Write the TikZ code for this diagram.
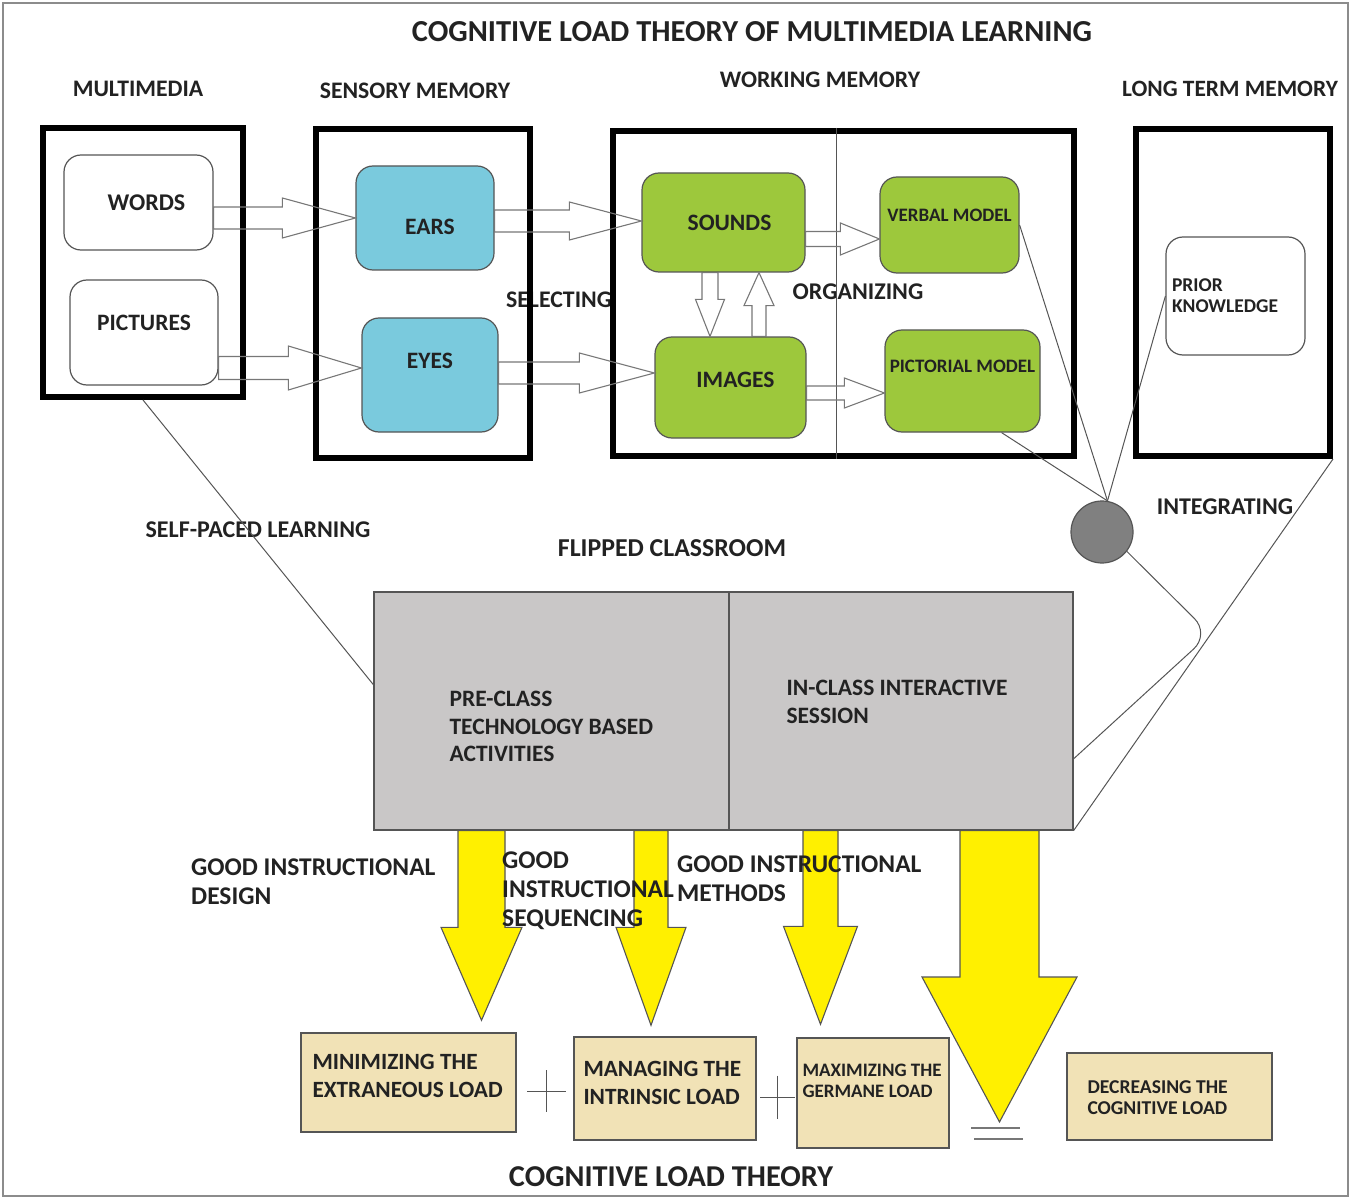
\documentclass[tikz,border=0pt]{standalone}
\usepackage{fontspec}
\setmainfont{Carlito}
\usetikzlibrary{calc,positioning}
\definecolor{ink}{HTML}{222222}
\definecolor{edge}{HTML}{555555}
\definecolor{sky}{HTML}{7ACADD}
\definecolor{leaf}{HTML}{9DC83C}
\definecolor{slab}{HTML}{C9C7C7}
\definecolor{hubgray}{HTML}{808080}
\definecolor{sun}{HTML}{FFF000}
\definecolor{sand}{HTML}{F1E2B6}
\definecolor{rim}{HTML}{8C8C8C}

\begin{document}
\begin{tikzpicture}[x=1pt,y=-1pt,
  txt/.style 2 args={font=\fontsize{#1}{#2}\selectfont\bfseries,text=ink,inner sep=0pt},
  store/.style={draw=black,line width=6pt,inner sep=0pt},
  card/.style={draw=edge,line width=1.2pt,rounded corners=17pt,inner sep=0pt},
  panel/.style={draw=edge,line width=1.2pt,fill=slab,inner sep=0pt},
  loadbox/.style={draw=edge,line width=1.4pt,fill=sand,inner sep=0pt},
  wire/.style={draw=edge,line width=1pt},
  % block arrow: shaft half width, head half width, head length
  hollow/.style n args={3}{draw=edge!80,line width=1.1pt,
    to path={
      ($(\tikztotarget)!#3!(\tikztostart)$) coordinate (hb)
      ($(\tikztostart)!#1!90:(\tikztotarget)$)
      -- ($(hb)!#1!90:(\tikztotarget)$)
      -- ($(hb)!#2!90:(\tikztotarget)$)
      -- (\tikztotarget)
      -- ($(hb)!#2!-90:(\tikztotarget)$)
      -- ($(hb)!#1!-90:(\tikztotarget)$)
      -- ($(\tikztostart)!#1!-90:(\tikztotarget)$)
      -- cycle}}]

  \useasboundingbox (0,0) rectangle (1352,1198);
  \draw[rim,line width=2pt] (3,3) rectangle (1348,1196);

  % headings
  \node[txt={30.5}{36}] (title) at (752,32)
    {COGNITIVE LOAD THEORY OF MULTIMEDIA LEARNING};
  \node[txt={23.7}{28}] (hmm) at (138,89) {MULTIMEDIA};
  \node[txt={23.7}{28}] (hsm) at (415,91) {SENSORY MEMORY};
  \node[txt={23.7}{28}] (hwm) at (820,80) {WORKING MEMORY};
  \node[txt={23.4}{28}] (hltm) at (1230,89) {LONG TERM MEMORY};
  \node[txt={23.8}{28}] (selecting) at (559,300) {SELECTING};
  \node[txt={24}{28}] (organizing) at (858,292) {ORGANIZING};

  % the four stores
  \node[store,minimum width=200pt,minimum height=269pt] (mm) at (143,262.5) {};
  \node[store,minimum width=214pt,minimum height=329pt] (sm) at (423,293.5) {};
  \node[store,minimum width=461pt,minimum height=325pt] (wm) at (843.5,293.5) {};
  \node[store,minimum width=194pt,minimum height=327pt] (ltm) at (1233,292.5) {};
  \draw[wire] (wm.north -| 836,0) -- (wm.south -| 836,0);

  \node[card,txt={24}{28},fill=white,minimum width=149pt,minimum height=95pt]
    (words) at (138.5,202.5) {\hspace*{16pt}WORDS};
  \node[card,txt={23.5}{28},fill=white,minimum width=148pt,minimum height=105pt,
    text depth=19pt] (pictures) at (144,332.5) {PICTURES};
  \node[card,txt={23.5}{28},fill=sky,minimum width=138pt,minimum height=104pt,
    text height=33pt] (ears) at (425,218) {\hspace*{10pt}EARS};
  \node[card,txt={23.5}{28},fill=sky,minimum width=136pt,minimum height=114pt,
    text depth=28pt] (eyes) at (430,375) {EYES};
  \node[card,txt={23.5}{28},fill=leaf,minimum width=163pt,minimum height=99pt]
    (sounds) at (723.5,222.5) {\hspace*{12pt}SOUNDS};
  \node[card,txt={23.5}{28},fill=leaf,minimum width=151pt,minimum height=101pt,
    text depth=15pt] (images) at (730.5,387.5) {\hspace*{10pt}IMAGES};
  \node[card,txt={19}{22},fill=leaf,minimum width=139pt,minimum height=96pt,
    text depth=20pt] (verbal) at (949.5,225) {VERBAL MODEL};
  \node[card,txt={19}{22},fill=leaf,minimum width=155pt,minimum height=102pt,
    text depth=30pt] (pictorial) at (962.5,381) {PICTORIAL MODEL};
  \node[card,txt={19.5}{21},fill=white,minimum width=139pt,minimum height=118pt,
    text width=127pt,align=left] (prior) at (1235.5,296) {PRIOR\\KNOWLEDGE};

  % selecting and organizing
  \draw[hollow={11pt}{20pt}{73pt}] (words.east |- ears.west) to (ears.west);
  \draw[hollow={11.5pt}{22pt}{73pt}] (pictures.east |- 0,368) to (eyes.west |- 0,368);
  \draw[hollow={11pt}{19pt}{72pt}] (ears.east |- 0,221) to (sounds.west |- 0,221);
  \draw[hollow={11pt}{20pt}{75pt}] (eyes.east |- 0,373) to (images.west |- 0,373);
  \draw[hollow={7.5pt}{16pt}{39pt}] (sounds.east |- 0,239) to (verbal.west |- 0,239);
  \draw[hollow={7pt}{15pt}{40pt}] (images.east |- 0,393) to (pictorial.west |- 0,393);
  \draw[hollow={8pt}{14.5pt}{37pt}] (sounds.south -| 710,0) to (images.north -| 710,0);
  \draw[hollow={7pt}{15pt}{33pt}] (images.north -| 759,0) to (sounds.south -| 759,0);

  % integrating
  \node[circle,draw=edge,fill=hubgray,line width=1.2pt,minimum size=62pt,inner sep=0pt]
    (hub) at (1102,532) {};
  \node[txt={24}{28}] (integrating) at (1225,507) {INTEGRATING};
  \draw[wire] (verbal.east) -- (hub.80);
  \draw[wire] ($(pictorial.south)!0.5!(pictorial.south east)$) -- (hub.80);
  \draw[wire] (prior.west) -- (hub.80);

  % flipped classroom
  \node[txt={24}{28}] (selfpaced) at (258,530) {SELF-PACED LEARNING};
  \node[txt={25.8}{30}] (flipped) at (672,548) {FLIPPED CLASSROOM};
  \node[panel,minimum width=355pt,minimum height=238pt] (pre) at (551.5,711) {};
  \node[panel,minimum width=344pt,minimum height=238pt] (inclass) at (901,711) {};
  \node[txt={23.5}{27.5},align=left,right=76pt of pre.west,yshift=-15.5pt] (pretext)
    {PRE-CLASS\\TECHNOLOGY BASED\\ACTIVITIES};
  \node[txt={23.5}{28},align=left,right=58pt of inclass.west,yshift=9pt] (intext)
    {IN-CLASS INTERACTIVE\\SESSION};

  \coordinate (bend) at (1210,634);
  \draw[wire] (mm.south) -- ($(pre.north west)!0.39!(pre.south west)$);
  \draw[wire] (ltm.south east) -- (inclass.south east);
  \draw[wire,rounded corners=22pt] (hub.-38) -- (bend)
    -- ($(inclass.north east)!0.7!(inclass.south east)$);

  % the three loads
  \node[loadbox,minimum width=215pt,minimum height=99pt] (extr) at (408.5,1082.5) {};
  \node[loadbox,minimum width=182pt,minimum height=103pt] (intr) at (665,1088.5) {};
  \node[loadbox,minimum width=152pt,minimum height=110pt] (germ) at (873,1093) {};
  \node[loadbox,minimum width=205pt,minimum height=87pt] (decr) at (1169.5,1096.5) {};
  \node[txt={23.3}{28},align=left,right=12pt of extr.west,yshift=6.5pt] (extrtext)
    {MINIMIZING THE\\EXTRANEOUS LOAD};
  \node[txt={23.3}{28},align=left,right=10pt of intr.west,yshift=5.5pt] (intrtext)
    {MANAGING THE\\INTRINSIC LOAD};
  \node[txt={19}{21},align=left,right=6pt of germ.west,yshift=12.5pt] (germtext)
    {MAXIMIZING THE\\GERMANE LOAD};
  \node[txt={19.6}{21},align=left,right=21pt of decr.west,yshift=-1pt] (decrtext)
    {DECREASING THE\\COGNITIVE LOAD};

  \coordinate (tip1) at ($(extr.north -| 481.5,0)+(0,-12)$);
  \coordinate (tip2) at ($(intr.north -| 651,0)+(0,-11)$);
  \coordinate (tip3) at ($(germ.north -| 820.5,0)+(0,-13)$);
  \coordinate (tip4) at (999.5,1122);
  \draw[hollow={23.5pt}{40.5pt}{93pt},fill=sun,draw=edge] (pre.south -| 481.5,0) to (tip1);
  \draw[hollow={17pt}{35pt}{98pt},fill=sun,draw=edge] (pre.south -| 651,0) to (tip2);
  \draw[hollow={17.5pt}{37pt}{98pt},fill=sun,draw=edge] (inclass.south -| 820.5,0) to (tip3);
  \draw[hollow={39.5pt}{77.5pt}{145pt},fill=sun,draw=edge] (inclass.south -| 999.5,0) to (tip4);

  % plus and equals signs
  \draw[wire] (546.5,1091) +(-19.5,0) -- +(19.5,0) +(0,-21) -- +(0,21);
  \draw[wire] (777.5,1097) +(-17.5,0) -- +(17.5,0) +(0,-21.5) -- +(0,21.5);
  \draw[draw=edge!80,line width=2pt] (tip4) +(-28.5,6) -- +(20.5,6) +(-25.5,17) -- +(23.5,17);

  \node[txt={25.5}{29},align=left,anchor=west] (design) at (191,881.5)
    {GOOD INSTRUCTIONAL\\DESIGN};
  \node[txt={25.5}{29},align=left,anchor=west] (sequencing) at (502,891)
    {GOOD\\INSTRUCTIONAL\\SEQUENCING};
  \node[txt={25.5}{29},align=left,anchor=west] (methods) at (677,878.5)
    {GOOD INSTRUCTIONAL\\METHODS};
  \node[txt={30.3}{34}] (clt) at (671,1177) {COGNITIVE LOAD THEORY};
\end{tikzpicture}
\end{document}
